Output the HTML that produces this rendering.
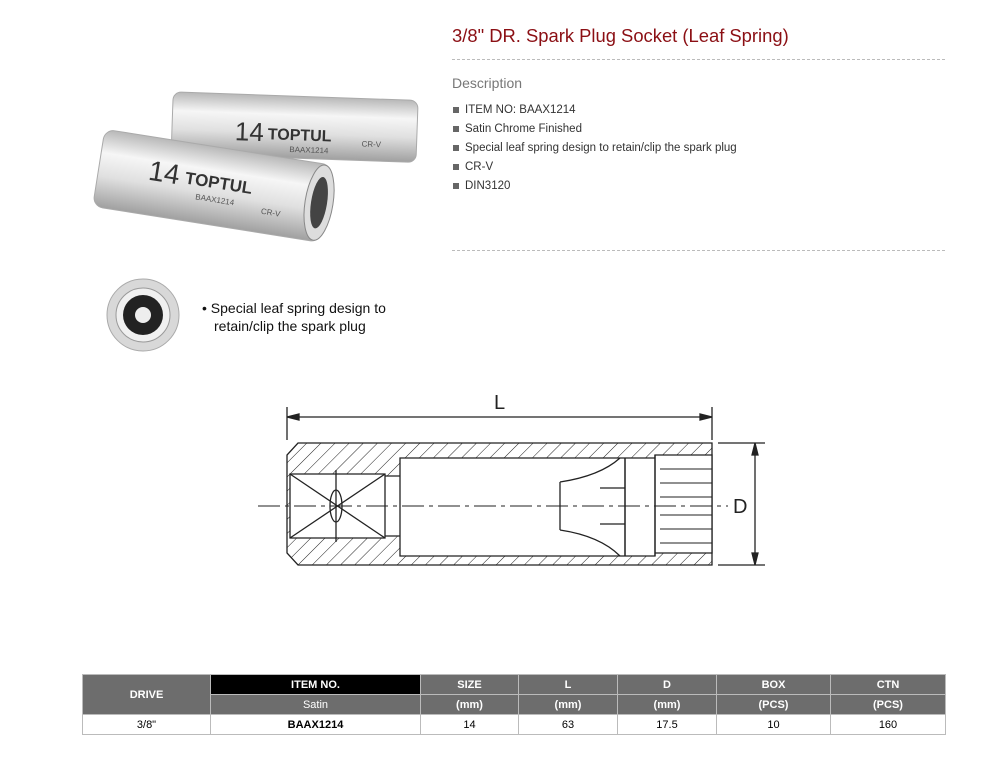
<!DOCTYPE html>
<html><head><meta charset="utf-8"><style>
body{margin:0;width:1003px;height:770px;background:#fff;position:relative;font-family:"Liberation Sans",sans-serif;overflow:hidden}
.abs{position:absolute}
h1{position:absolute;left:452px;top:25px;margin:0;font-size:18.4px;font-weight:normal;color:#8b0f14;font-family:"Liberation Sans",sans-serif}
.dash{position:absolute;left:452px;width:493px;border-top:1px dashed #bbb}
.desc{left:452px;top:75px;font-size:14px;color:#777;font-family:"Liberation Sans",sans-serif}
ul{position:absolute;left:452px;top:101px;margin:0;padding:0;list-style:none;font-size:11.5px;color:#333}
li{height:19px;line-height:19px;padding-left:13px;position:relative}
li:before{content:"";position:absolute;left:1px;top:6px;width:6px;height:6px;background:#666}
table{position:absolute;left:82px;top:674px;width:864px;border-collapse:collapse;font-size:11px;text-align:center}
td{border:1px solid #bbb;height:19px;padding:0}
.h{background:#6d6d6d;color:#fff;font-weight:bold}
.k{background:#000;color:#fff;font-weight:bold}
</style></head><body>
<h1>3/8" DR. Spark Plug Socket (Leaf Spring)</h1>
<div class="dash" style="top:59px"></div>
<div class="abs desc">Description</div>
<ul><li>ITEM NO: BAAX1214</li><li>Satin Chrome Finished</li><li>Special leaf spring design to retain/clip the spark plug</li><li>CR-V</li><li>DIN3120</li></ul>
<div class="dash" style="top:250px"></div>

<svg class="abs" style="left:0;top:0" width="440" height="360">
<defs>
<linearGradient id="g" x1="0" y1="0" x2="0" y2="1"><stop offset="0" stop-color="#b8b8b8"/><stop offset=".3" stop-color="#f6f6f6"/><stop offset=".6" stop-color="#e0e0e0"/><stop offset="1" stop-color="#a0a0a0"/></linearGradient>
</defs>
<g transform="rotate(2 290 130)">
<rect x="172" y="96" width="245" height="62" rx="8" fill="url(#g)" stroke="#aaa"/>
<text x="235" y="142" font-size="26" fill="#333" font-family="Liberation Sans">14</text>
<text x="268" y="140" font-size="16" font-weight="bold" fill="#333">TOPTUL</text>
<text x="290" y="152" font-size="8" fill="#555">BAAX1214</text>
<text x="362" y="144" font-size="8" fill="#555">CR-V</text>
</g>
<g transform="rotate(9 200 200)">
<rect x="95" y="145" width="230" height="78" rx="10" fill="url(#g)" stroke="#aaa"/>
<ellipse cx="318" cy="184" rx="14" ry="38" fill="#ddd" stroke="#888"/>
<ellipse cx="318" cy="184" rx="8" ry="26" fill="#444"/>
<text x="145" y="188" font-size="28" fill="#333">14</text>
<text x="182" y="186" font-size="17" font-weight="bold" fill="#333">TOPTUL</text>
<text x="195" y="200" font-size="8" fill="#555">BAAX1214</text>
<text x="262" y="204" font-size="8" fill="#555">CR-V</text>
</g>
<circle cx="143" cy="315" r="36" fill="#d8d8d8" stroke="#aaa"/>
<circle cx="143" cy="315" r="27" fill="#f0f0f0" stroke="#999"/>
<circle cx="143" cy="315" r="20" fill="#222"/>
<circle cx="143" cy="315" r="8" fill="#eee"/>
<text x="202" y="313" font-size="14" fill="#111">• Special leaf spring design to</text>
<text x="214" y="331" font-size="14" fill="#111">retain/clip the spark plug</text>
</svg>

<svg class="abs" style="left:0;top:0" width="1003" height="640">
<defs><pattern id="h" width="10" height="10" patternUnits="userSpaceOnUse" patternTransform="rotate(45)"><line x1="0" y1="0" x2="0" y2="10" stroke="#222" stroke-width="1"/></pattern></defs>
<g stroke="#222" fill="none" stroke-width="1.3">
<line x1="287" y1="407" x2="287" y2="440"/><line x1="712" y1="407" x2="712" y2="440"/>
<line x1="287" y1="417" x2="712" y2="417"/>
<path d="M287 417 l12 -3 v6 z M712 417 l-12 -3 v6 z" fill="#222"/>
<line x1="718" y1="443" x2="765" y2="443"/><line x1="718" y1="565" x2="765" y2="565"/>
<line x1="755" y1="443" x2="755" y2="565"/>
<path d="M755 443 l-3 12 h6 z M755 565 l-3 -12 h6 z" fill="#222"/>
<path d="M298 443 H712 V565 H298 L287 553 V455 Z" fill="url(#h)"/>
<path d="M290 474 H385 V538 H290 Z M400 458 H625 V556 H400 Z M385 476 H400 V536 H385 Z M625 458 H655 V556 H625 Z M655 455 H712 V553 H655 Z" fill="#fff"/>
<line x1="290" y1="474" x2="385" y2="538"/><line x1="290" y1="538" x2="385" y2="474"/>
<ellipse cx="336" cy="506" rx="6" ry="16"/>
<line x1="336" y1="470" x2="336" y2="542"/>
<line x1="625" y1="458" x2="625" y2="556"/><line x1="655" y1="455" x2="655" y2="556"/>
<path d="M560 482 Q600 476 620 458 M560 530 Q600 536 620 556 M560 482 V530"/>
<line x1="600" y1="488" x2="625" y2="488"/><line x1="600" y1="524" x2="625" y2="524"/>
<g stroke-width="1"><line x1="660" y1="469" x2="712" y2="469"/><line x1="660" y1="483" x2="712" y2="483"/><line x1="660" y1="497" x2="712" y2="497"/><line x1="660" y1="515" x2="712" y2="515"/><line x1="660" y1="529" x2="712" y2="529"/><line x1="660" y1="543" x2="712" y2="543"/></g>
<line x1="258" y1="506" x2="728" y2="506" stroke-dasharray="22 5 4 5" stroke-width="1"/>
</g>
<text x="494" y="409" font-size="20" fill="#222">L</text>
<text x="733" y="513" font-size="20" fill="#222">D</text>
</svg>

<table>
<tr><td class="h" rowspan="2" style="width:127px">DRIVE</td><td class="k" style="width:209px">ITEM NO.</td><td class="h" style="width:97px">SIZE</td><td class="h" style="width:98px">L</td><td class="h" style="width:98px">D</td><td class="h" style="width:113px">BOX</td><td class="h">CTN</td></tr>
<tr><td class="h" style="font-weight:normal">Satin</td><td class="h">(mm)</td><td class="h">(mm)</td><td class="h">(mm)</td><td class="h">(PCS)</td><td class="h">(PCS)</td></tr>
<tr><td>3/8"</td><td style="font-weight:bold">BAAX1214</td><td>14</td><td>63</td><td>17.5</td><td>10</td><td>160</td></tr>
</table>
</body></html>
